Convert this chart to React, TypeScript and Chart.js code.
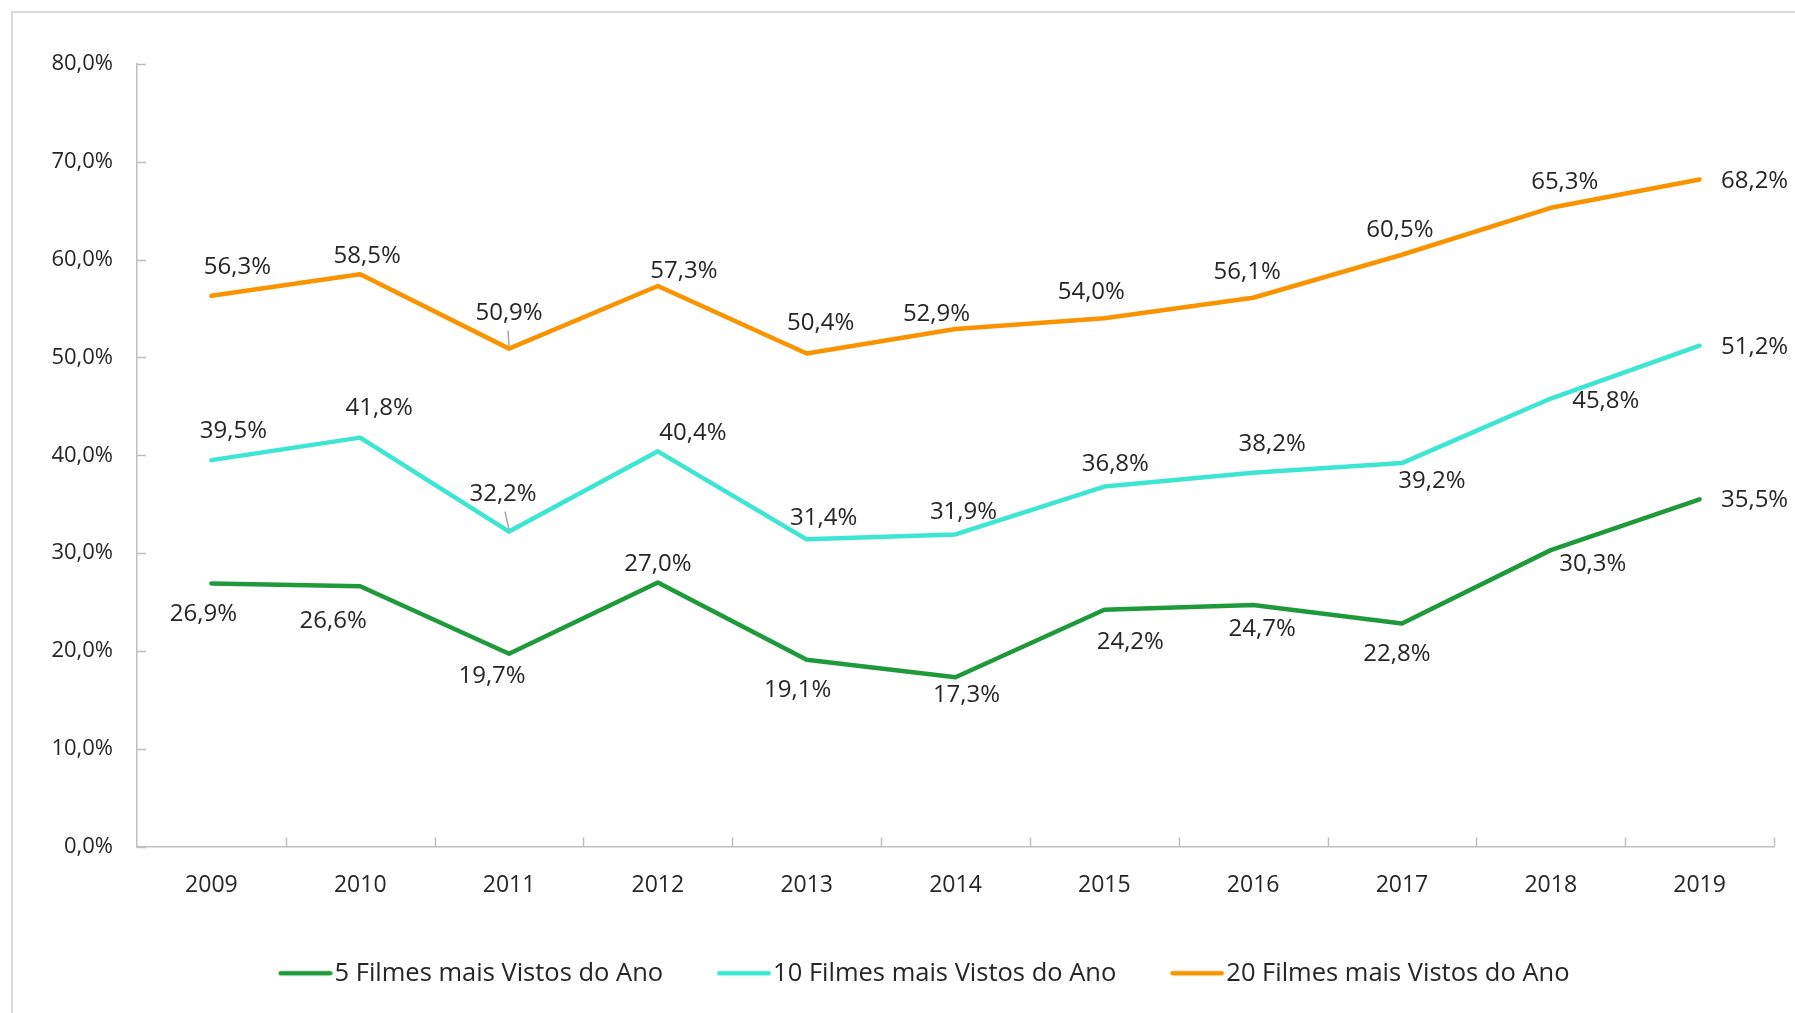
import React, { useEffect, useRef } from 'react';
import { Chart, registerables } from 'chart.js';

Chart.register(...registerables);

const years = ['2009', '2010', '2011', '2012', '2013', '2014', '2015', '2016', '2017', '2018', '2019'];
const seriesNames = ['5 Filmes mais Vistos do Ano', '10 Filmes mais Vistos do Ano', '20 Filmes mais Vistos do Ano'];
const top5 = [26.9, 26.6, 19.7, 27.0, 19.1, 17.3, 24.2, 24.7, 22.8, 30.3, 35.5];
const top10 = [39.5, 41.8, 32.2, 40.4, 31.4, 31.9, 36.8, 38.2, 39.2, 45.8, 51.2];
const top20 = [56.3, 58.5, 50.9, 57.3, 50.4, 52.9, 54.0, 56.1, 60.5, 65.3, 68.2];
const yMin = 0;
const yMax = 80;
const yStep = 10;

const colors = ['#1f9a3b', '#3ce6d2', '#fa9300'];

// label placement (offset of label centre from its point, px)
const labelOffsets: number[][][] = [
  [[-8, 31], [-27, 35], [-17, 22], [0, -18], [-9, 30], [11, 18], [26, 32], [9, 24], [-5, 31], [42, 14], [55, 1]],
  [[22, -29], [19, -29], [-6, -37], [35, -18], [17, -21], [8, -22], [11, -22], [19, -29], [30, 18], [55, 3], [55, 1]],
  [[26, -29], [7, -18], [0, -35], [26, -15], [14, -30], [-19, -15], [-13, -26], [-6, -26], [-2, -25], [14, -26], [55, 2]],
];
const leaders = [[1, 2], [2, 2]];

const TEXT = '#262626';
const AXIS = '#bfbfbf';
const FONT = '"Open Sans", "Noto Sans", sans-serif';
const LEGEND_FONT = 25.5;
const LABEL_FONT = 24;

const fmt = (v: number) => Number(v).toFixed(1).replace('.', ',') + '%';

// legend swatch: a line from x to x+54 whose text starts 2px after it
const LINE_LEN = 54;
const SWATCH_BOX = LINE_LEN + 2 - LEGEND_FONT / 2;
function makeSwatch(color: string) {
  const half = Math.max(SWATCH_BOX / 2, LINE_LEN - SWATCH_BOX / 2);
  const c = document.createElement('canvas');
  c.width = Math.ceil(half * 2);
  c.height = 8;
  const g = c.getContext('2d') as CanvasRenderingContext2D;
  const start = half - SWATCH_BOX / 2;
  g.strokeStyle = color;
  g.lineWidth = 4.5;
  g.lineCap = 'round';
  g.beginPath();
  g.moveTo(start + 2.25, 4);
  g.lineTo(start + LINE_LEN - 2.25, 4);
  g.stroke();
  return c;
}

const insideTicks = {
  id: 'insideTicks',
  beforeDatasetsDraw(chart: any) {
    const { ctx, chartArea } = chart;
    const x = chart.scales.x;
    const y = chart.scales.y;
    ctx.save();
    ctx.strokeStyle = AXIS;
    ctx.lineWidth = 1.5;
    ctx.beginPath();
    y.ticks.forEach((t: any) => {
      const py = Math.round(y.getPixelForValue(t.value)) + 0.5;
      ctx.moveTo(chartArea.left, py);
      ctx.lineTo(chartArea.left + 9, py);
    });
    for (let i = 1; i <= years.length; i++) {
      const px = i < years.length
        ? (x.getPixelForValue(i - 1) + x.getPixelForValue(i)) / 2
        : chartArea.right;
      const rx = Math.round(px) + 0.5;
      ctx.moveTo(rx, chartArea.bottom);
      ctx.lineTo(rx, chartArea.bottom - 9);
    }
    ctx.stroke();
    ctx.restore();
  },
};

const dataLabels = {
  id: 'dataLabels',
  afterDatasetsDraw(chart: any) {
    const { ctx } = chart;
    ctx.save();
    ctx.font = LABEL_FONT + 'px ' + FONT;
    ctx.fillStyle = TEXT;
    ctx.textAlign = 'center';
    ctx.textBaseline = 'middle';
    chart.data.datasets.forEach((ds: any, di: number) => {
      const meta = chart.getDatasetMeta(di);
      meta.data.forEach((pt: any, i: number) => {
        const [dx, dy] = labelOffsets[di][i];
        ctx.fillText(fmt(ds.data[i]), pt.x + dx, pt.y + dy);
      });
    });
    ctx.strokeStyle = '#a6a6a6';
    ctx.lineWidth = 1.5;
    leaders.forEach(([di, i]) => {
      const pt = chart.getDatasetMeta(di).data[i];
      const [dx, dy] = labelOffsets[di][i];
      ctx.beginPath();
      ctx.moveTo(pt.x + dx / 2 - 1, pt.y + dy + 17);
      ctx.lineTo(pt.x, pt.y - 2);
      ctx.stroke();
    });
    ctx.restore();
  },
};

export default function App() {
  const ref = useRef<HTMLCanvasElement>(null);
  useEffect(() => {
    Chart.defaults.font.family = FONT;
    const series = [top5, top10, top20];
    const chart = new Chart(ref.current as HTMLCanvasElement, {
      type: 'line',
      data: {
        labels: years,
        datasets: series.map((d, i) => ({
          label: seriesNames[i],
          data: d,
          borderColor: colors[i],
          backgroundColor: colors[i],
          borderWidth: 4.5,
          pointRadius: 0,
          pointHoverRadius: 0,
          pointStyle: makeSwatch(colors[i]) as any,
          tension: 0,
          borderCapStyle: 'round' as const,
          borderJoinStyle: 'round' as const,
          fill: false,
        })),
      },
      options: {
        responsive: true,
        maintainAspectRatio: false,
        animation: false,
        layout: { padding: { top: 51, right: 0, bottom: 17, left: 0 } },
        scales: {
          x: {
            offset: true,
            grid: { display: false, drawTicks: false },
            border: { display: true, color: AXIS, width: 1.5 },
            ticks: { padding: 25, color: TEXT, font: { size: 23 } },
            afterFit: (s: any) => { s.height = 60; },
          },
          y: {
            min: yMin,
            max: yMax,
            grid: { display: false, drawTicks: false },
            border: { display: true, color: AXIS, width: 1.5 },
            ticks: { stepSize: yStep, padding: 24, color: TEXT, font: { size: 22 }, callback: (v: any) => fmt(v) },
            afterFit: (s: any) => { s.width = 124; },
          },
          spacer: {
            type: 'linear',
            position: 'right',
            display: true,
            grid: { display: false, drawTicks: false },
            border: { display: false },
            ticks: { display: false },
            afterFit: (s: any) => { s.width = 61; },
          },
        },
        plugins: {
          legend: {
            position: 'bottom',
            labels: {
              usePointStyle: true,
              pointStyleWidth: SWATCH_BOX,
              padding: 54,
              color: TEXT,
              font: { size: LEGEND_FONT },
            },
          },
          tooltip: { enabled: false },
        },
      },
      plugins: [insideTicks, dataLabels],
    });
    return () => chart.destroy();
  }, []);
  return (
    <div style={{ position: 'fixed', left: 0, top: 0, width: 1795, height: 1013, overflow: 'hidden', background: '#fff' }}>
      <div style={{ position: 'absolute', left: 11, top: 11, width: 1822, height: 1100, border: '2px solid #d9d9d9' }}>
        <div style={{ position: 'relative', width: 1822, height: 1000 }}>
          <canvas ref={ref} />
        </div>
      </div>
    </div>
  );
}
